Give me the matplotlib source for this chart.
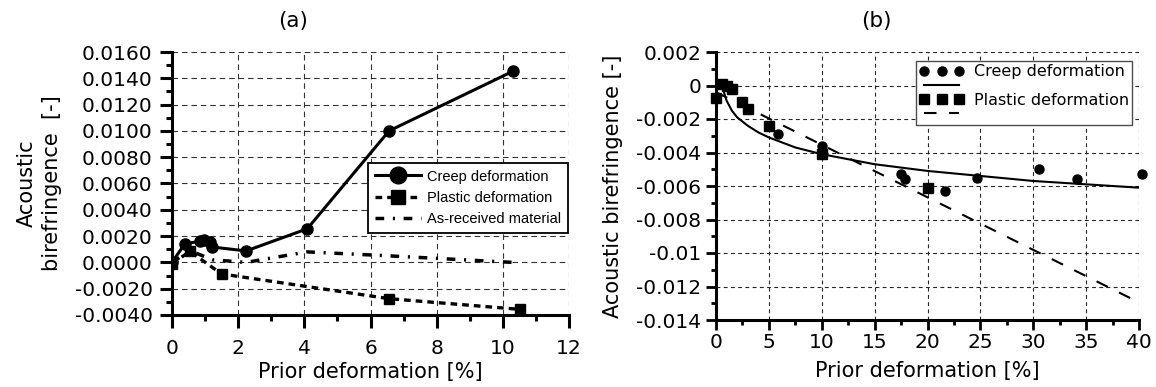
import matplotlib
matplotlib.use('Agg')
import matplotlib.pyplot as plt
from matplotlib.ticker import MultipleLocator, FormatStrFormatter

plt.rcParams['font.family'] = ['DejaVu Sans']
plt.rcParams['axes.unicode_minus'] = False

# (a) birefringence vs prior deformation
creep_a_x = [0.0, 0.39, 0.85, 0.97, 1.15, 1.22, 2.24, 4.09, 6.56, 10.3]
creep_a_y = [0.0, 0.00142, 0.0016, 0.00173, 0.00155, 0.00117, 0.00087, 0.00256, 0.0100, 0.01453]
plastic_a_x = [0.0, 0.54, 1.50, 6.57, 10.51]
plastic_a_y = [-0.0001, 0.00084, -0.00088, -0.00276, -0.00357]
asrec_a_x = [0.0, 0.54, 1.22, 2.24, 4.08, 6.55, 10.3]
asrec_a_y = [0.0, 0.0009, 0.0002, 0.0, 0.0008, 0.0005, 0.0]
labels_a = ['Creep deformation', 'Plastic deformation', 'As-received material']

# (b) measured points and fitted trends
creep_b_x = [5.9, 10.05, 17.5, 17.9, 21.65, 24.7, 30.5, 34.1, 40.25]
creep_b_y = [-0.0029, -0.0036, -0.0053, -0.0056, -0.0063, -0.0055, -0.0050, -0.0056, -0.0053]
plastic_b_x = [0.0, 0.54, 1.0, 1.5, 2.5, 3.0, 5.0, 10.05, 20.0]
plastic_b_y = [-0.00073, 0.0001, 0.0, -0.0002, -0.0010, -0.0014, -0.0024, -0.0041, -0.0061]
creep_fit_x = [0.55, 0.7, 1.0, 1.5, 2, 3, 4, 5, 7.5, 10, 15, 20, 25, 30, 35, 40]
creep_fit_y = [0.0, -0.0003, -0.0009, -0.0015, -0.0019, -0.0024, -0.0028, -0.0031, -0.0037,
               -0.0041, -0.0047, -0.0051, -0.0054, -0.0057, -0.0059, -0.0061]
plastic_fit_x = [0.0, 39.2]
plastic_fit_y = [-0.0004, -0.0127]
labels_b = ['Creep deformation', '', 'Plastic deformation', '']

fig = plt.figure(figsize=(11.56, 3.87), dpi=100)
ax_a = fig.add_axes([172 / 1156, 1 - 315 / 387, 397 / 1156, 263 / 387])
ax_b = fig.add_axes([716 / 1156, 1 - 320 / 387, 423 / 1156, 268 / 387])

# ---- panel (a)
ax_a.plot(creep_a_x, creep_a_y, '-o', color='black', lw=2.2, ms=8, label=labels_a[0], zorder=5)
ax_a.plot(plastic_a_x, plastic_a_y, 's', ls=(0, (2, 1.5)), color='black', lw=2.4, ms=7,
          label=labels_a[1], zorder=4)
ax_a.plot(asrec_a_x, asrec_a_y, ls=(0, (2.5, 2.5, 0.6, 2.5)), color='black', lw=2.5,
          label=labels_a[2], zorder=3)

ax_a.set_xlim(0, 12)
ax_a.set_ylim(-0.004, 0.016)
ax_a.xaxis.set_major_locator(MultipleLocator(2))
ax_a.xaxis.set_minor_locator(MultipleLocator(1))
ax_a.yaxis.set_major_locator(MultipleLocator(0.002))
ax_a.yaxis.set_minor_locator(MultipleLocator(0.001))
ax_a.yaxis.set_major_formatter(FormatStrFormatter('%.4f'))
ax_a.tick_params(which='major', length=9, width=2.2, labelsize=14.5)
ax_a.tick_params(which='minor', length=4.5, width=2.2)
ax_a.tick_params(axis='x', which='major', pad=8)
ax_a.tick_params(axis='y', which='major', pad=5)
ax_a.grid(True, which='major', color='0.2', lw=0.8, ls=(0, (5, 3.5)))
for s in ['top', 'right']:
    ax_a.spines[s].set_visible(False)
for s in ['left', 'bottom']:
    ax_a.spines[s].set_linewidth(2.2)
ax_a.set_xlabel('Prior deformation [%]', fontsize=15, labelpad=3)
ax_a.set_ylabel('Acoustic\nbirefringence  [-]', fontsize=15, linespacing=1.35)
ax_a.yaxis.set_label_coords(-0.277, 0.5)
ax_a.set_title('(a)', fontsize=15.5, x=0.305, pad=18)

leg_a = ax_a.legend(loc='upper left', bbox_to_anchor=(0.494, 0.578), borderaxespad=0,
                    numpoints=1, markerscale=1.5, handlelength=3.2, handletextpad=0.4,
                    labelspacing=0.5, borderpad=0.45, fancybox=False, framealpha=1,
                    prop={'family': 'Liberation Sans', 'size': 10.5})
leg_a.get_frame().set_edgecolor('black')
leg_a.get_frame().set_linewidth(1.3)

# ---- panel (b)
h1, = ax_b.plot(creep_b_x, creep_b_y, 'o', color='black', ms=6.5, ls='none', clip_on=False, zorder=5)
h2, = ax_b.plot(creep_fit_x, creep_fit_y, '-', color='black', lw=1.5, zorder=3)
h3, = ax_b.plot(plastic_b_x, plastic_b_y, 's', color='black', ms=6.5, ls='none', clip_on=False, zorder=5)
h4, = ax_b.plot(plastic_fit_x, plastic_fit_y, color='black', lw=1.5, ls=(0, (6, 6)), zorder=3)

ax_b.set_xlim(0, 40)
ax_b.set_ylim(-0.014, 0.002)
ax_b.xaxis.set_major_locator(MultipleLocator(5))
ax_b.xaxis.set_minor_locator(MultipleLocator(2.5))
ax_b.yaxis.set_major_locator(MultipleLocator(0.002))
ax_b.yaxis.set_minor_locator(MultipleLocator(0.001))
ax_b.yaxis.set_major_formatter(FormatStrFormatter('%g'))
ax_b.tick_params(which='major', length=7, width=2.0, labelsize=14.5)
ax_b.tick_params(which='minor', length=3.5, width=2.0)
ax_b.tick_params(axis='x', which='major', pad=2.5)
ax_b.tick_params(axis='y', which='major', pad=3.6)
ax_b.grid(True, which='major', color='0.15', lw=0.8, ls=(0, (3.5, 3)))
for s in ['top', 'right']:
    ax_b.spines[s].set_visible(False)
for s in ['left', 'bottom']:
    ax_b.spines[s].set_linewidth(2.2)
ax_b.set_xlabel('Prior deformation [%]', fontsize=15, labelpad=6)
ax_b.set_ylabel('Acoustic birefringence [-]', fontsize=15)
ax_b.yaxis.set_label_coords(-0.22, 0.5)
ax_b.set_title('(b)', fontsize=15.5, x=0.38, pad=18)

leg_b = ax_b.legend([h1, h2, h3, h4], labels_b, loc='upper left', bbox_to_anchor=(0.473, 0.966),
                    borderaxespad=0, numpoints=3, handlelength=2.8, handletextpad=0.6,
                    labelspacing=-0.05, borderpad=0.2, fancybox=False, framealpha=1, fontsize=11.5)
leg_b.get_frame().set_edgecolor('0.3')
leg_b.get_frame().set_linewidth(1.0)

fig.savefig('out.png', dpi=100)
